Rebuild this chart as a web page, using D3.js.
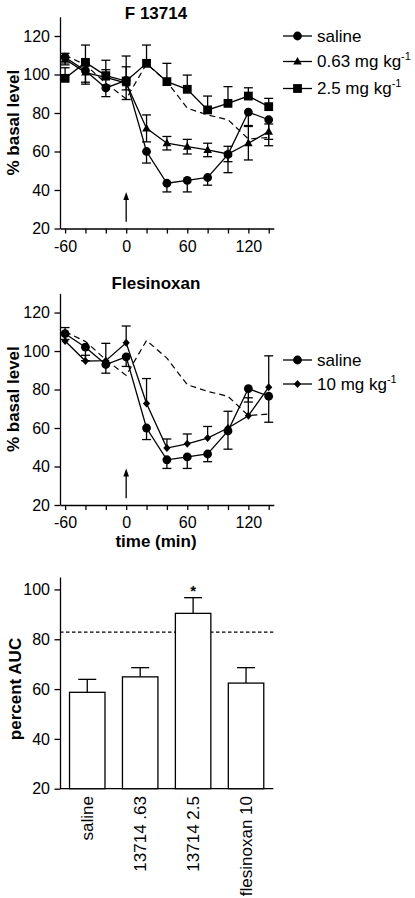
<!DOCTYPE html>
<html><head><meta charset="utf-8">
<script src="https://cdn.jsdelivr.net/npm/d3@7"></script>
<style>
body{margin:0;background:#fff}
svg{display:block}
text{font-family:"Liberation Sans",Arial,Helvetica,sans-serif;fill:#000}
</style>
</head><body>
<svg id="c" width="415" height="898"></svg>
<script>
// ---------- data ----------
const times = [-60, -40, -20, 0, 20, 40, 60, 80, 100, 120, 140];
const salineMean = [109, 102, 93, 97, 60, 43.5, 45, 46.5, 58.5, 80.5, 76.5];
const salineErr  = [3, 7, 4.5, 5, 6, 4.5, 6, 4, 9.5, 7, 13.5];
const f063Mean = [108, 101, 98.5, 95.5, 72, 64.3, 62.5, 60.8, 58.7, 64.3, 70.3];
const f063Err  = [3, 5, 4, 8.5, 7, 3.5, 3.8, 3.5, 4, 8.7, 4];
const f25Mean = [98, 106.3, 99.4, 96.6, 105.8, 96.3, 92.3, 81.6, 85, 88.8, 83.3];
const f25Err  = [5.5, 9, 8, 13, 9.5, 9.5, 7.4, 7.2, 8.7, 4.3, 4.3];
const flesMean = [105.2, 94.8, 95, 104.3, 72.7, 49.6, 51.8, 54.8, 60, 66.4, 81.2];
const flesErr  = [7, 3, 9, 8.7, 13, 4.7, 5.1, 6, 8.7, 9.3, 16.3];
const refDashed = [110, 105, 95.5, 87.3, 105.5, 96.3, 82.5, 79, 76.5, 66.5, 67.3];

const yTickVals = [20, 40, 60, 80, 100, 120];
const xTickVals = [-60, -40, -20, 0, 20, 40, 60, 80, 100, 120, 140];
const xTickLabels = [-60, 0, 60, 120];
const arrowFrom = 23.5, arrowTo = 39;

const barCats = ["saline", "13714 .63", "13714 2.5", "flesinoxan 10"];
const barMeans = [58.7, 64.9, 90.4, 62.4];
const barErr = [5.2, 3.7, 6.3, 6.2];
const barTickVals = [20, 40, 60, 80, 100];
const aucRef = 82.9;
const sigMarks = ["", "", "*", ""];

// ---------- drawing ----------
const svg = d3.select("#c");
const FONT = '"Liberation Sans",Arial,Helvetica,sans-serif';
const SW = 1.3;

function styleAxis(g) {
  g.attr("font-size", 16).attr("font-family", FONT);
  g.selectAll("path.domain").attr("stroke", "#000").attr("stroke-width", SW);
  g.selectAll(".tick line").attr("stroke", "#000").attr("stroke-width", SW);
  g.selectAll(".tick text").attr("fill", "#000");
}

function symbol(g, type, cx, cy) {
  if (type === "circle") {
    g.append("circle").attr("cx", cx).attr("cy", cy).attr("r", 4.4).attr("fill", "#000");
  } else if (type === "square") {
    g.append("rect").attr("x", cx - 4.4).attr("y", cy - 4.4).attr("width", 8.8).attr("height", 8.8).attr("fill", "#000");
  } else if (type === "triangle") {
    g.append("path").attr("d", `M${cx},${cy - 4.6}L${cx + 4.3},${cy + 3}L${cx - 4.3},${cy + 3}Z`).attr("fill", "#000");
  } else if (type === "diamond") {
    g.append("path").attr("d", `M${cx},${cy - 4}L${cx + 3.6},${cy}L${cx},${cy + 4}L${cx - 3.6},${cy}Z`).attr("fill", "#000");
  }
}

function linePanel(o) {
  const x = d3.scaleLinear().domain([-65, 145]).range([60, 273.8]);
  const y = d3.scaleLinear().domain([20, 130]).range([o.yBot, o.yTop]);
  const g = svg.append("g");

  const ya = d3.axisLeft(y).tickValues(yTickVals).tickSize(5.5).tickSizeOuter(0).tickPadding(4.5);
  g.append("g").attr("transform", "translate(60,0)").call(ya).call(styleAxis);
  const xa = d3.axisBottom(x).tickValues(xTickVals)
    .tickFormat(d => xTickLabels.includes(d) ? String(d) : "")
    .tickSize(5).tickSizeOuter(0).tickPadding(7);
  g.append("g").attr("transform", `translate(0,${o.yBot})`).call(xa).call(styleAxis);

  // titles / labels
  g.append("text").attr("x", 156).attr("y", o.titleY).attr("text-anchor", "middle")
    .attr("font-size", 17).attr("font-weight", "bold").text(o.title);
  g.append("text").attr("transform", `translate(18.5,${(o.yTop + o.yBot) / 2}) rotate(-90)`)
    .attr("text-anchor", "middle").attr("font-size", 17).attr("font-weight", "bold").text("% basal level");
  if (o.xLabel) {
    g.append("text").attr("x", 156).attr("y", o.yBot + 42).attr("text-anchor", "middle")
      .attr("font-size", 17).attr("font-weight", "bold").text(o.xLabel);
  }

  // reference dashed line
  const line = d3.line().x((d, i) => x(times[i])).y(d => y(d));
  g.append("path").attr("d", line(refDashed)).attr("fill", "none").attr("stroke", "#000")
    .attr("stroke-width", 1.2).attr("stroke-dasharray", "6,4");

  // series lines
  o.series.forEach(s => {
    g.append("path").attr("d", line(s.mean)).attr("fill", "none").attr("stroke", "#000").attr("stroke-width", SW);
  });
  // error bars
  o.series.forEach(s => {
    s.mean.forEach((m, i) => {
      const e = s.err[i], cx = x(times[i]);
      const ends = [];
      if (s.dir === "up" || s.dir === "both") ends.push(m + e);
      if (s.dir === "down" || s.dir === "both") ends.push(m - e);
      ends.forEach(v => {
        g.append("line").attr("x1", cx).attr("x2", cx).attr("y1", y(m)).attr("y2", y(v))
          .attr("stroke", "#000").attr("stroke-width", SW);
        g.append("line").attr("x1", cx - 4.5).attr("x2", cx + 4.5).attr("y1", y(v)).attr("y2", y(v))
          .attr("stroke", "#000").attr("stroke-width", SW);
      });
    });
  });
  // markers
  o.series.forEach(s => {
    s.mean.forEach((m, i) => symbol(g, s.sym, x(times[i]), y(m)));
  });

  // arrow at t=0
  const ax = x(0);
  g.append("line").attr("x1", ax).attr("x2", ax).attr("y1", y(arrowFrom)).attr("y2", y(arrowTo) + 6)
    .attr("stroke", "#000").attr("stroke-width", SW);
  g.append("path").attr("d", `M${ax},${y(arrowTo)}L${ax + 2.8},${y(arrowTo) + 8}L${ax - 2.8},${y(arrowTo) + 8}Z`).attr("fill", "#000");

  // legend
  o.series.forEach((s, i) => {
    const ly = o.legendY[i];
    g.append("line").attr("x1", 283).attr("x2", 312).attr("y1", ly).attr("y2", ly)
      .attr("stroke", "#000").attr("stroke-width", SW);
    symbol(g, s.sym, 297.5, ly);
    const t = g.append("text").attr("x", 317).attr("y", ly + 5.7).attr("font-size", 17);
    t.append("tspan").text(s.label);
    if (s.sup) t.append("tspan").attr("font-size", 11).attr("dy", -7).text(s.sup);
  });
}

linePanel({
  yTop: 16.75, yBot: 228.5, title: "F 13714", titleY: 19.3,
  legendY: [36, 61.5, 88.5],
  series: [
    {mean: salineMean, err: salineErr, dir: "down", sym: "circle", label: "saline"},
    {mean: f063Mean, err: f063Err, dir: "both", sym: "triangle", label: "0.63 mg kg", sup: "-1"},
    {mean: f25Mean, err: f25Err, dir: "up", sym: "square", label: "2.5 mg kg", sup: "-1"}
  ]
});

linePanel({
  yTop: 293.3, yBot: 505, title: "Flesinoxan", titleY: 289, xLabel: "time (min)",
  legendY: [360, 384],
  series: [
    {mean: salineMean, err: salineErr, dir: "down", sym: "circle", label: "saline"},
    {mean: flesMean, err: flesErr, dir: "up", sym: "diamond", label: "10 mg kg", sup: "-1"}
  ]
});

// ---------- bar panel ----------
(function () {
  const x = d3.scaleBand().domain(barCats).range([60, 273.3]).paddingInner(0.33).paddingOuter(0.18);
  const y = d3.scaleLinear().domain([20, 105]).range([788.7, 577]);
  const g = svg.append("g");

  const ya = d3.axisLeft(y).tickValues(barTickVals).tickSize(5.5).tickSizeOuter(0).tickPadding(4.5);
  g.append("g").attr("transform", "translate(60,0)").call(ya).call(styleAxis);
  g.append("line").attr("x1", 60).attr("x2", 273.3).attr("y1", y(20)).attr("y2", y(20))
    .attr("stroke", "#000").attr("stroke-width", SW);

  g.append("line").attr("x1", 60).attr("x2", 273.3).attr("y1", y(aucRef)).attr("y2", y(aucRef))
    .attr("stroke", "#000").attr("stroke-width", 1.2).attr("stroke-dasharray", "3.5,2.5");

  barCats.forEach((c, i) => {
    const bx = x(c), bw = x.bandwidth(), cx = bx + bw / 2;
    g.append("line").attr("x1", cx).attr("x2", cx).attr("y1", y(barMeans[i])).attr("y2", y(barMeans[i] + barErr[i]))
      .attr("stroke", "#000").attr("stroke-width", SW);
    g.append("line").attr("x1", cx - 9).attr("x2", cx + 9).attr("y1", y(barMeans[i] + barErr[i])).attr("y2", y(barMeans[i] + barErr[i]))
      .attr("stroke", "#000").attr("stroke-width", SW);
    g.append("rect").attr("x", bx).attr("y", y(barMeans[i])).attr("width", bw).attr("height", y(20) - y(barMeans[i]))
      .attr("fill", "#fff").attr("stroke", "#000").attr("stroke-width", SW);
    if (sigMarks[i]) {
      g.append("text").attr("x", cx).attr("y", y(barMeans[i] + barErr[i]) - 1.5).attr("text-anchor", "middle")
        .attr("font-size", 15).attr("font-weight", "bold").text(sigMarks[i]);
    }
    g.append("text").attr("transform", `translate(${cx},796) rotate(-90)`).attr("text-anchor", "end")
      .attr("dy", "0.35em").attr("font-size", 17).text(c);
  });

  g.append("text").attr("transform", "translate(20.5,689) rotate(-90)").attr("text-anchor", "middle")
    .attr("font-size", 17).attr("font-weight", "bold").text("percent AUC");
})();
</script>
</body></html>
